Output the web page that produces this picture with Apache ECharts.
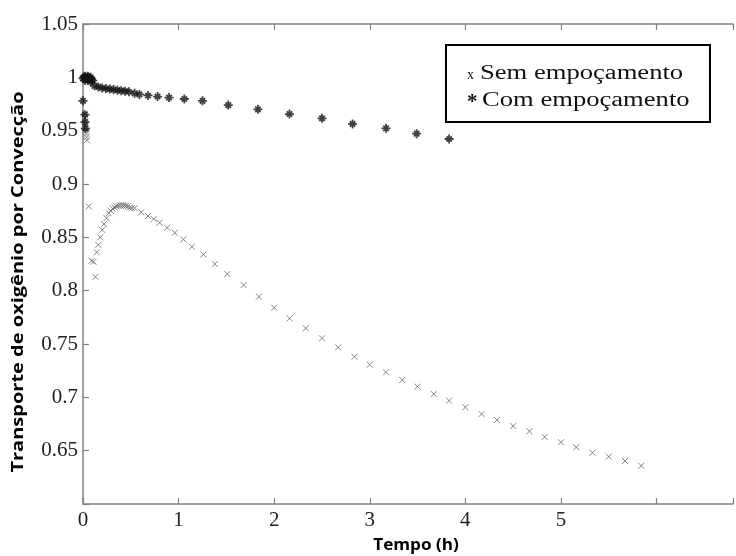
<!DOCTYPE html>
<html><head><meta charset="utf-8">
<script src="https://cdn.jsdelivr.net/npm/echarts@6/dist/echarts.min.js"></script>
<style>html,body{margin:0;padding:0;background:#fff}#c{width:736px;height:556px}</style>
</head><body><div id="c"></div>
<script>
// Axis ranges / ticks
const xMin = 0, xMax = 6.8, xInterval = 1;
const xTickLabels = ['0','1','2','3','4','5'];
const yMin = 0.6, yMax = 1.05, yInterval = 0.05;
const yTickLabels = ['0.65','0.7','0.75','0.8','0.85','0.9','0.95','1','1.05'];

// Series: Sem empoçamento (x markers)
const semT = [0.02,0.022,0.025,0.027,0.03,0.032,0.035,0.037,0.04,
  0.06,0.09,0.11,0.13,0.143,0.16,0.18,0.20,0.22,0.246,0.27,
  0.29,0.31,0.33,0.35,0.37,0.39,0.41,0.43,0.45,0.47,0.49,0.51,
  0.54,0.61,0.68,0.74,0.80,0.88,0.96,1.05,1.14,1.26,1.38,1.51,1.68,1.84,
  2.0,2.16,2.33,2.5,2.67,2.84,3.0,3.17,3.34,3.5,3.67,3.83,4.0,4.17,4.33,4.5,
  4.67,4.83,5.0,5.16,5.33,5.5,5.67,5.84];
const semY = [0.966,0.962,0.959,0.956,0.953,0.950,0.947,0.944,0.941,
  0.879,0.828,0.827,0.813,0.836,0.843,0.850,0.857,0.8625,0.868,0.8725,
  0.875,0.877,0.878,0.879,0.8795,0.880,0.880,0.880,0.8795,0.879,0.878,0.8775,
  0.8772,0.8735,0.870,0.8672,0.8637,0.859,0.8543,0.848,0.8412,0.834,0.825,0.8156,0.8053,0.7943,
  0.784,0.774,0.7647,0.7553,0.7469,0.738,0.7306,0.7235,0.7163,0.710,0.7031,0.6969,0.6907,0.6844,0.6788,0.6731,
  0.6682,0.6628,0.6579,0.6532,0.6481,0.6444,0.6403,0.6359];

// Series: Com empoçamento (* markers)
const comT = [0.0,0.02,0.02,0.025,
  0.0,0.01,0.02,0.03,0.04,0.05,0.06,0.07,0.08,0.09,0.10,0.02,0.05,0.08,
  0.12,0.16,0.20,0.24,0.28,0.32,0.36,0.40,0.44,0.48,0.54,
  0.59,0.68,0.78,0.90,1.06,1.25,1.52,1.83,2.16,2.50,2.82,3.17,3.49,3.83];
const comY = [0.978,0.965,0.958,0.952,
  0.999,1.000,1.001,1.000,0.999,1.001,1.000,0.999,1.000,0.998,0.997,0.997,0.997,0.996,
  0.992,0.991,0.990,0.9895,0.989,0.9885,0.988,0.9875,0.987,0.9865,0.985,
  0.984,0.983,0.982,0.981,0.9797,0.978,0.974,0.970,0.9656,0.9616,0.9563,0.9522,0.9472,0.9422];

const semData = semT.map((t,i)=>[t, semY[i]]);
const comData = comT.map((t,i)=>[t, comY[i]]);

const serif = '"Liberation Serif", "Times New Roman", Times, serif';
const axisColor = '#808080';
const chart = echarts.init(document.getElementById('c'));
chart.setOption({
  backgroundColor:'#fff',
  animation:false,
  grid:{left:83, top:24, right:0, bottom:52, containLabel:false},
  xAxis:[{
    type:'value', min:xMin, max:xMax, interval:xInterval, position:'bottom',
    axisLine:{show:true, lineStyle:{color:axisColor, width:1.5}},
    axisTick:{show:true, inside:true, length:6, lineStyle:{color:axisColor, width:1.2}},
    splitLine:{show:false},
    axisLabel:{margin:6, fontFamily:serif, fontSize:21, color:'#222',
      formatter:v=>{const i=Math.round(v); return (Math.abs(v-i)<1e-6 && i<xTickLabels.length)? xTickLabels[i]:'';}}
  },{
    type:'value', min:xMin, max:xMax, interval:xInterval, position:'top',
    axisLine:{show:true, onZero:false, lineStyle:{color:axisColor, width:1.5}},
    axisTick:{show:true, inside:true, length:6, lineStyle:{color:axisColor, width:1.2}},
    splitLine:{show:false}, axisLabel:{show:false}
  }],
  yAxis:{
    type:'value', min:yMin, max:yMax, interval:yInterval,
    axisLine:{show:true, lineStyle:{color:axisColor, width:1.5}},
    axisTick:{show:true, inside:true, length:6, lineStyle:{color:axisColor, width:1.2}},
    splitLine:{show:false},
    axisLabel:{margin:5, fontFamily:serif, fontSize:21, color:'#222',
      formatter:v=>{const s=yTickLabels.find(l=>Math.abs(parseFloat(l)-v)<1e-6); return s||'';}}
  },
  series:[{
    name:'Sem empoçamento', type:'scatter', data:semData, xAxisIndex:0,
    symbol:'path://M0,0L10,10M10,0L0,10', symbolSize:6,
    itemStyle:{color:'none', borderColor:'#666', borderWidth:1}
  },{
    name:'Com empoçamento', type:'scatter', data:comData, xAxisIndex:0,
    symbol:'path://M5,0L5,10M0,5L10,5M2,2L8,8M8,2L2,8', symbolSize:9,
    itemStyle:{color:'none', borderColor:'#111', borderWidth:1.8}
  }],
  graphic:[
    {type:'rect', shape:{x:446, y:45, width:264, height:77},
     style:{fill:'#fff', stroke:'#000', lineWidth:2}, z:100},
    {type:'text', x:467, y:82, z:101,
     style:{text:'x', font:'14px ' + serif, fill:'#111', textVerticalAlign:'bottom'}},
    {type:'text', x:480, y:74, scaleX:1.33, z:101,
     style:{text:'Sem empoçamento', font:'20px ' + serif, fill:'#111', textVerticalAlign:'middle'}},
    {type:'text', x:467, y:103, z:101,
     style:{text:'*', font:'bold 21px ' + serif, fill:'#111', textVerticalAlign:'middle'}},
    {type:'text', x:482, y:101, scaleX:1.33, z:101,
     style:{text:'Com empoçamento', font:'20px ' + serif, fill:'#111', textVerticalAlign:'middle'}},
    {type:'text', x:18, y:282, rotation:Math.PI/2, scaleX:1.25, z:101,
     style:{text:'Transporte de oxigênio por Convecção', font:'bold 16px "Open Sans", sans-serif', fill:'#000', textAlign:'center', textVerticalAlign:'middle'}},
    {type:'text', x:416, y:545, scaleX:1.07, z:101,
     style:{text:'Tempo (h)', font:'bold 16px "Open Sans", sans-serif', fill:'#000', textAlign:'center', textVerticalAlign:'middle'}}
  ]
});
</script>
</body></html>
